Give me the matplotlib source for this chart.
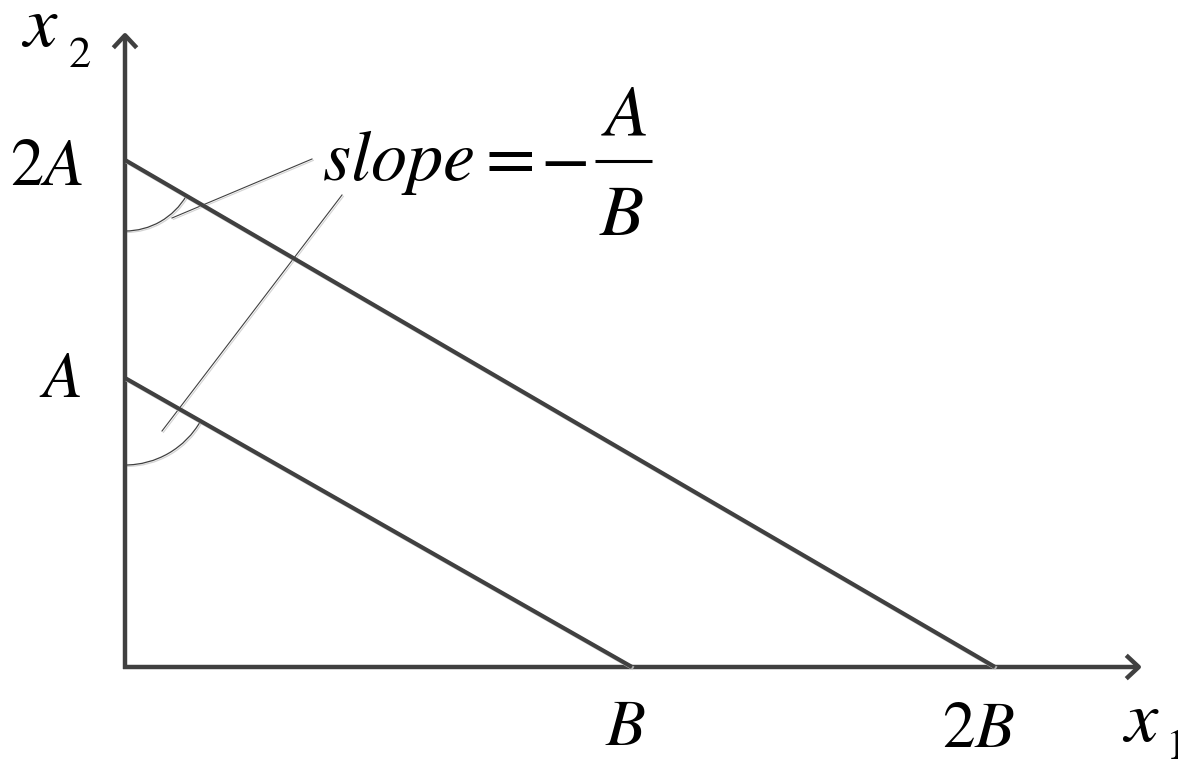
import numpy as np
import matplotlib
matplotlib.use("Agg")
import matplotlib.pyplot as plt
import matplotlib.patheffects as pe
from matplotlib.patches import Arc

# Intercepts (1 unit = 100 px, origin at the axes corner)
x_intercepts = [5.07, 8.70]      # B, 2B
y_intercepts = [2.89, 5.07]      # A, 2A
x_labels = [r"$B$", r"$2B$"]
y_labels = [r"$A$", r"$2A$"]
x_axis_end = 10.17
y_axis_end = 6.35

INK = "#404040"
plt.rcParams["mathtext.fontset"] = "stix"
plt.rcParams["font.family"] = ["STIXGeneral", "DejaVu Serif"]

fig = plt.figure(figsize=(11.78, 7.64), dpi=100)
ax = fig.add_axes([0, 0, 1, 1])
ax.set_xlim(-1.25, 10.53)
ax.set_ylim(-0.97, 6.67)
ax.set_aspect("equal")
ax.axis("off")

shadow = [pe.SimpleLineShadow(offset=(1, -1), shadow_color="#c8c8c8", alpha=0.8), pe.Normal()]

# Axes with open arrow heads
arrow = dict(arrowstyle="->,head_length=0.45,head_width=0.42", lw=3.2, color=INK,
             mutation_scale=20, shrinkA=0, shrinkB=0, capstyle="butt")
ax.annotate("", xy=(x_axis_end, 0), xytext=(-0.02, 0), arrowprops=arrow)
ax.annotate("", xy=(0, y_axis_end), xytext=(0, -0.02), arrowprops=arrow)

# Budget lines
for xi, yi in zip(x_intercepts, y_intercepts):
    ax.plot([0, xi], [yi, 0], color=INK, lw=3.0, solid_capstyle="butt",
            path_effects=shadow, zorder=3)

# Angle arcs between the vertical axis and each line
arc_radius = [0.87, 0.71]
for xi, yi, r in zip(x_intercepts, y_intercepts, arc_radius):
    ang = np.degrees(np.arctan2(-yi, xi)) % 360
    ax.add_patch(Arc((0, yi), 2 * r, 2 * r, theta1=270, theta2=ang,
                     color=INK, lw=0.9, path_effects=shadow))

# Leader lines from the slope label
ax.plot([1.87, 0.47], [5.08, 4.49], color=INK, lw=0.8, path_effects=shadow)
ax.plot([2.17, 0.37], [4.72, 2.36], color=INK, lw=0.8, path_effects=shadow)

# slope = -A/B, fraction built by hand to keep the wide spacing
ax.text(1.97, 4.87, r"$slope=$", fontsize=52, ha="left", va="baseline")
ax.text(4.15, 4.87, r"$-$", fontsize=52, ha="left", va="baseline")
ax.plot([4.70, 5.27], [5.06, 5.06], color="black", lw=2.2, solid_capstyle="butt")
ax.text(4.99, 5.32, r"$A$", fontsize=52, ha="center", va="baseline")
ax.text(4.97, 4.32, r"$B$", fontsize=52, ha="center", va="baseline")

# Tick-like labels
ax.text(-0.42, 4.82, y_labels[1], fontsize=48, ha="right", va="baseline")
ax.text(-0.44, 2.70, y_labels[0], fontsize=47, ha="right", va="baseline")
ax.text(x_intercepts[0] - 0.065, -0.78, x_labels[0], fontsize=47, ha="center", va="baseline")
ax.text(x_intercepts[1] - 0.16, -0.80, x_labels[1], fontsize=47, ha="center", va="baseline")

# Axis names
ax.text(-1.04, 6.20, r"$x$", fontsize=54, ha="left", va="baseline")
ax.text(-0.56, 6.00, "2", fontsize=32, ha="left", va="baseline")
ax.text(9.97, -0.75, r"$x$", fontsize=54, ha="left", va="baseline")
ax.text(10.40, -0.92, "1", fontsize=32, ha="left", va="baseline")

fig.savefig("out.png", dpi=100)
